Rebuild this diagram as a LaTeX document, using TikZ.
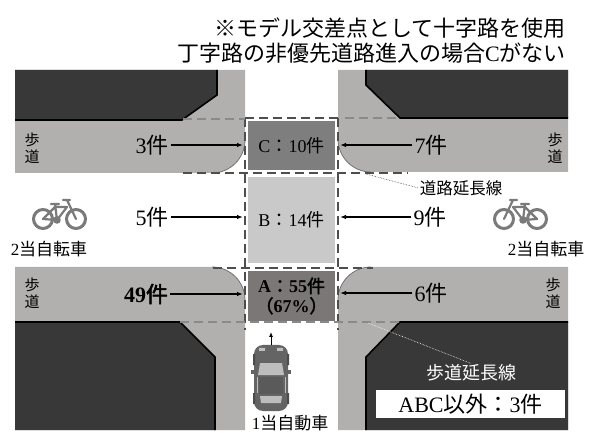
\documentclass[tikz,border=0pt]{standalone}
\usepackage{fontspec}
\setmainfont{Liberation Serif}
\newfontfamily\jp[AutoFakeBold=2.5]{Noto Sans CJK JP}
\usetikzlibrary{arrows.meta}

\definecolor{walk}{HTML}{B2AFAF}
\definecolor{bldg}{HTML}{383838}
\definecolor{boxC}{HTML}{7E7E7E}
\definecolor{boxB}{HTML}{C9C9C9}
\definecolor{boxA}{HTML}{7B7777}
\definecolor{dashdark}{HTML}{4E4E4E}
\definecolor{dashlight}{HTML}{8A8A8A}
\definecolor{bikegray}{HTML}{7A7A7A}
\definecolor{cargray}{HTML}{646464}
\definecolor{carroof}{HTML}{5A5A5A}
\definecolor{carglass}{HTML}{BDBDBD}

% bicycle icon, rear wheel at the origin, riding towards +x
\newcommand\bicycleicon{%
  \draw[bikegray, line width=3pt] (0,0) circle[radius=9.5pt];
  \draw[bikegray, line width=3pt] (33,0) circle[radius=9.5pt];
  \draw[bikegray, line width=2.2pt, line join=round, line cap=round]
    (0,0) -- (14,1) -- (12,-15)
    (0,0) -- (12,-12) -- (24,-12) -- (14,1)
    (33,0) -- (24,-19)
    (20,-19) -- (27,-19)
    (8,-15) -- (16,-15);
  \fill[bikegray] (14,1) circle[radius=3.8pt];
}

\begin{document}
\begin{tikzpicture}[x=1pt, y=-1pt,
  curb/.style={draw=black!55, line width=0.8pt},
  edge/.style={draw=black, line width=1.6pt},
  roadext/.style={draw=dashdark, line width=2pt, dash pattern=on 9pt off 5pt},
  walkext/.style={draw=dashlight, line width=2pt, dash pattern=on 9pt off 5pt},
  zone/.style={rectangle, inner sep=0pt, minimum width=87pt, align=center,
    font=\fontsize{18}{20}\selectfont},
  num/.style={inner sep=2pt, font=\fontsize{22}{24}\selectfont},
  walklbl/.style={align=center, inner sep=0pt, font=\fontsize{15}{17}\selectfont\jp},
  lbl/.style={inner sep=1pt, font=\fontsize{17}{19}\selectfont},
  arr/.style={-{Latex[length=6pt,width=4.5pt]}, line width=1.4pt},
  leader/.style={densely dotted, line width=0.6pt}]

\useasboundingbox (0,0) rectangle (590,433);

% ---- sidewalks (light gray) ----
\fill[walk] (15,70) -- (245,70) -- (245,140) .. controls (245,158.2) and (230.2,173) .. (212,173) -- (15,173) -- cycle;
\draw[curb] (245,140) .. controls (245,158.2) and (230.2,173) .. (212,173);
\fill[walk] (338,70) -- (568,70) -- (568,172) -- (371,172) .. controls (352.8,172) and (338,157.2) .. (338,139) -- cycle;
\draw[curb] (371,172) .. controls (352.8,172) and (338,157.2) .. (338,139);
\fill[walk] (15,267) -- (212,267) .. controls (230.2,267) and (245,281.8) .. (245,300) -- (245,430) -- (15,430) -- cycle;
\draw[curb] (212,267) .. controls (230.2,267) and (245,281.8) .. (245,300);
\fill[walk] (371,267) -- (568,267) -- (568,430) -- (338,430) -- (338,300) .. controls (338,281.8) and (352.8,267) .. (371,267) -- cycle;
\draw[curb] (338,300) .. controls (338,281.8) and (352.8,267) .. (371,267);

% ---- buildings (dark) ----
\fill[bldg] (15,70) -- (217,70) -- (217,95) -- (182,120) -- (15,120) -- cycle;
\draw[edge] (217,70) -- (217,95) -- (182,120) -- (15,120);
\fill[bldg] (366,70) -- (568,70) -- (568,118) -- (400,118) -- (366,85) -- cycle;
\draw[edge] (568,118) -- (400,118) -- (366,85) -- (366,70);
\fill[bldg] (15,322) -- (180,322) -- (215,357) -- (215,430) -- (15,430) -- cycle;
\draw[edge] (15,322) -- (180,322) -- (215,357) -- (215,430);
\fill[bldg] (400,322) -- (568,322) -- (568,430) -- (366,430) -- (366,357) -- cycle;
\draw[edge] (568,322) -- (400,322) -- (366,357) -- (366,430);

% ---- zones in the intersection ----
\node[zone, fill=boxC, minimum height=49pt] (zoneC) at (291.5,145.5) {C{\jp ：}10{\jp 件}};
\node[zone, fill=boxB, minimum height=86pt] (zoneB) at (291.5,220) {B{\jp ：}14{\jp 件}};
\node[zone, fill=boxA, minimum height=50pt] (zoneA) at (291.5,296)
  {\bfseries A{\jp ：}55{\jp 件}\\\bfseries{\jp （}67\%{\jp ）}};

% ---- extension lines ----
\draw[roadext] (245,118) -- (338,118);
\draw[roadext] (183,173) -- (408,173);
\draw[roadext] (213,268) -- (373,268);
\draw[roadext] (245,118) -- (245,330);
\draw[roadext] (338,118) -- (338,330);
\draw[walkext] (183,119) -- (245,119);
\draw[walkext] (345,118) -- (400,118);
\draw[walkext] (180,322) -- (400,322);

% ---- sidewalk labels ----
\node[walklbl] (walkTL) at (32,148) {歩\\道};
\node[walklbl] (walkTR) at (555,148) {歩\\道};
\node[walklbl] (walkBL) at (32,293) {歩\\道};
\node[walklbl] (walkBR) at (553,293) {歩\\道};

% ---- counts with arrows ----
\node[num] (n3) at (152,145) {3{\jp 件}};
\coordinate (t3) at (243,145);
\draw[arr] (n3.east) -- (t3);
\node[num] (n5) at (152,217) {5{\jp 件}};
\coordinate (t5) at (243,217);
\draw[arr] (n5.east) -- (t5);
\node[num] (n49) at (146,294) {\bfseries 49{\jp 件}};
\coordinate (t49) at (243,294);
\draw[arr] (n49.east) -- (t49);
\node[num] (n7) at (431,145) {7{\jp 件}};
\coordinate (t7) at (340,145);
\draw[arr] (n7.west) -- (t7);
\node[num] (n9) at (430,217) {9{\jp 件}};
\coordinate (t9) at (340,217);
\draw[arr] (n9.west) -- (t9);
\node[num] (n6) at (431,293) {6{\jp 件}};
\coordinate (t6) at (340,293);
\draw[arr] (n6.west) -- (t6);

% ---- title ----
\node[anchor=east, inner sep=0pt, font=\fontsize{22}{24}\selectfont\jp] (title1) at (566,28) {※モデル交差点として十字路を使用};
\node[anchor=east, inner sep=0pt, font=\fontsize{22}{24}\selectfont\jp] (title2) at (566,53) {丁字路の非優先道路進入の場合{\rmfamily C}がない};

% ---- bicycles ----
\begin{scope}[shift={(43,219)}]
  \bicycleicon
\end{scope}
\begin{scope}[shift={(537,219)}, xscale=-1]
  \bicycleicon
\end{scope}
\node[lbl] (bikeL) at (49,249) {2{\jp 当自転車}};
\node[lbl] (bikeR) at (546,249) {2{\jp 当自転車}};

% ---- car ----
\begin{scope}[shift={(271,378)}]
  \fill[cargray, rounded corners=9pt] (-17,-33) rectangle (17,33);
  \fill[cargray] (-20,-8) rectangle (20,-4);
  \fill[black!70] (-18,-24) rectangle (-16,-13) (16,-24) rectangle (18,-13)
                  (-18,15) rectangle (-16,26) (16,15) rectangle (18,26);
  \fill[carglass] (-11,-15) -- (11,-15) -- (13,-3) -- (-13,-3) -- cycle;
  \fill[carroof] (-12,-1) rectangle (12,16);
  \draw[carglass, line width=1pt] (-14,-1) -- (-14,15) (14,-1) -- (14,15);
  \fill[carglass] (-11,18) -- (11,18) -- (10,25) -- (-10,25) -- cycle;
  \fill[black!25] (-12,-30) rectangle (-6,-27) (6,-30) rectangle (12,-27);
\end{scope}
\coordinate (carfront) at (271,345);
\coordinate (carhead) at (271,332);
\draw[-{Latex[length=5pt,width=4pt]}, line width=0.9pt] (carfront) -- (carhead);
\node[lbl, font=\fontsize{17}{19}\selectfont] (carlbl) at (290,423.5) {1{\jp 当自動車}};

% ---- extension line labels ----
\coordinate (roadextpt) at (366,174);
\node[inner sep=1pt, font=\fontsize{16.5}{18}\selectfont\jp] (roadextlbl) at (461,188) {道路延長線};
\draw[leader, black!70] (roadextpt) -- (roadextlbl.west);
\coordinate (walkextpt) at (368,323);
\node[inner sep=1pt, text=white, font=\fontsize{18}{20}\selectfont\jp] (walkextlbl) at (471,373) {歩道延長線};
\draw[leader, white] (walkextpt) -- (walkextlbl.north);

% ---- other accidents ----
\node[fill=white, inner sep=0pt, minimum width=189pt, minimum height=28pt,
  font=\fontsize{22}{24}\selectfont] (other) at (470.5,404) {ABC{\jp 以外：}3{\jp 件}};
\end{tikzpicture}
\end{document}
